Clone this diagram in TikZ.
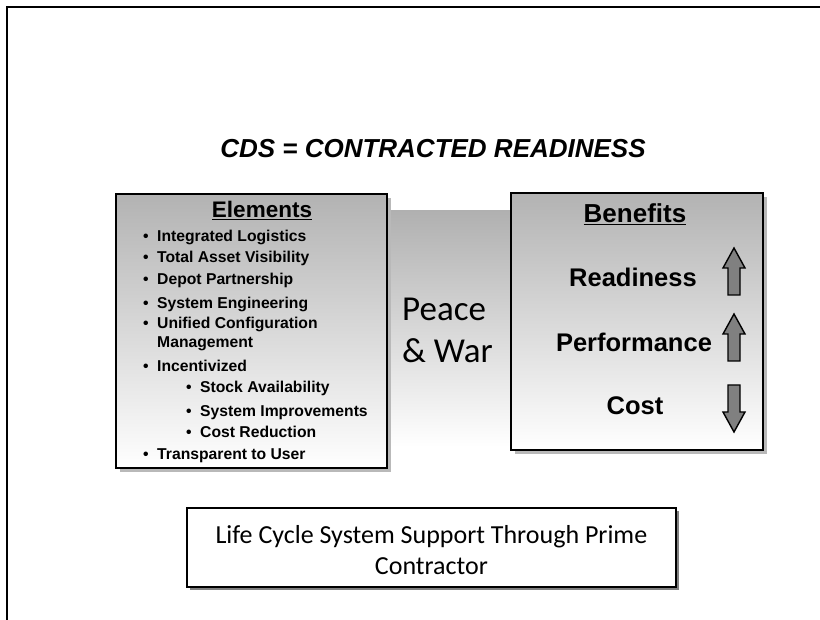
\documentclass[tikz,border=0pt]{standalone}
\usepackage{fontspec}
\setmainfont{Liberation Sans}
\newfontfamily\lightfont{Carlito}
\usetikzlibrary{shadows}

\tikzset{
  frame/.style={line width=2.5pt},
  gradbox/.style={draw, line width=1.8pt, top color=gray!60, bottom color=white,
    anchor=north west, inner sep=0pt,
    drop shadow={shadow xshift=4pt, shadow yshift=-4pt, fill=gray!55, opacity=1}},
  item/.style={anchor=base west, inner sep=0pt, font=\bfseries\fontsize{15.7}{19}\selectfont},
  benefit/.style={anchor=base, inner sep=0pt, font=\bfseries\fontsize{25.5}{30}\selectfont},
  arrowfill/.style={draw, line width=1.4pt, fill=gray, line join=miter},
  fatarrow/.pic={\draw[arrowfill] (0,0) -- (11,20) -- (6,20) -- (6,47) -- (-6,47) -- (-6,20) -- (-11,20) -- cycle;}
}
\newcommand{\bul}{\makebox[14pt][l]{\textbullet}}

\begin{document}
\begin{tikzpicture}[x=1pt, y=-1pt]
  \useasboundingbox (0,0) rectangle (820,620);
  \draw[frame] (7,620) -- (7,7) -- (820,7);

  \node[font=\bfseries\itshape\fontsize{26}{30}\selectfont, anchor=base] (title) at (433,158) {CDS = CONTRACTED READINESS};

  % middle panel sits behind the two boxes
  \node[top color=gray!62, bottom color=white, anchor=north west, inner sep=0pt,
    minimum width=160pt, minimum height=237pt] (mid) at (382,210) {};
  \node[font=\lightfont\fontsize{35}{42}\selectfont, align=left, anchor=north west, inner sep=0pt] (peace) at (402,298) {Peace\\\& War};

  % left box
  \node[gradbox, minimum width=271pt, minimum height=274pt] (elembox) at (115,193) {};
  \node[anchor=base, inner sep=0pt, font=\bfseries\fontsize{22.5}{26}\selectfont] (elemhead) at (262,218) {\underline{Elements}};
  \foreach \y/\t [count=\i] in {242/Integrated Logistics, 263/Total Asset Visibility,
      285/Depot Partnership, 309/System Engineering, 329/Unified Configuration,
      372/Incentivized, 460/Transparent to User}
    \node[item] (elem\i) at (143,\y) {\bul\t};
  \node[item] (elem5b) at (157,348) {Management};
  \foreach \y/\t [count=\i] in {393/Stock Availability, 417/System Improvements, 438/Cost Reduction}
    \node[item] (sub\i) at (186,\y) {\bul\t};

  % right box
  \node[gradbox, minimum width=252pt, minimum height=257pt] (benbox) at (510,192) {};
  \node[benefit, font=\bfseries\fontsize{26}{30}\selectfont] (benhead) at (635,223) {\underline{Benefits}};
  \node[benefit] (ready) at (633,287) {Readiness};
  \node[benefit] (perf) at (634,352) {Performance};
  \node[benefit] (cost) at (635,415) {Cost};
  \pic at (734,248) {fatarrow};
  \pic at (734,314) {fatarrow};
  \pic[rotate=180] at (734,432) {fatarrow};

  % bottom box
  \node[draw, line width=1.8pt, fill=white, anchor=north west, inner sep=0pt,
    minimum width=489pt, minimum height=79pt,
    drop shadow={shadow xshift=3pt, shadow yshift=-3pt, fill=gray, opacity=1}] (support) at (186,507) {};
  \node[align=center, inner sep=0pt, font=\lightfont\fontsize{26}{31}\selectfont] (supporttxt)
    at ([yshift=-3pt]support.center) {Life Cycle System Support Through Prime\\Contractor};
\end{tikzpicture}
\end{document}
